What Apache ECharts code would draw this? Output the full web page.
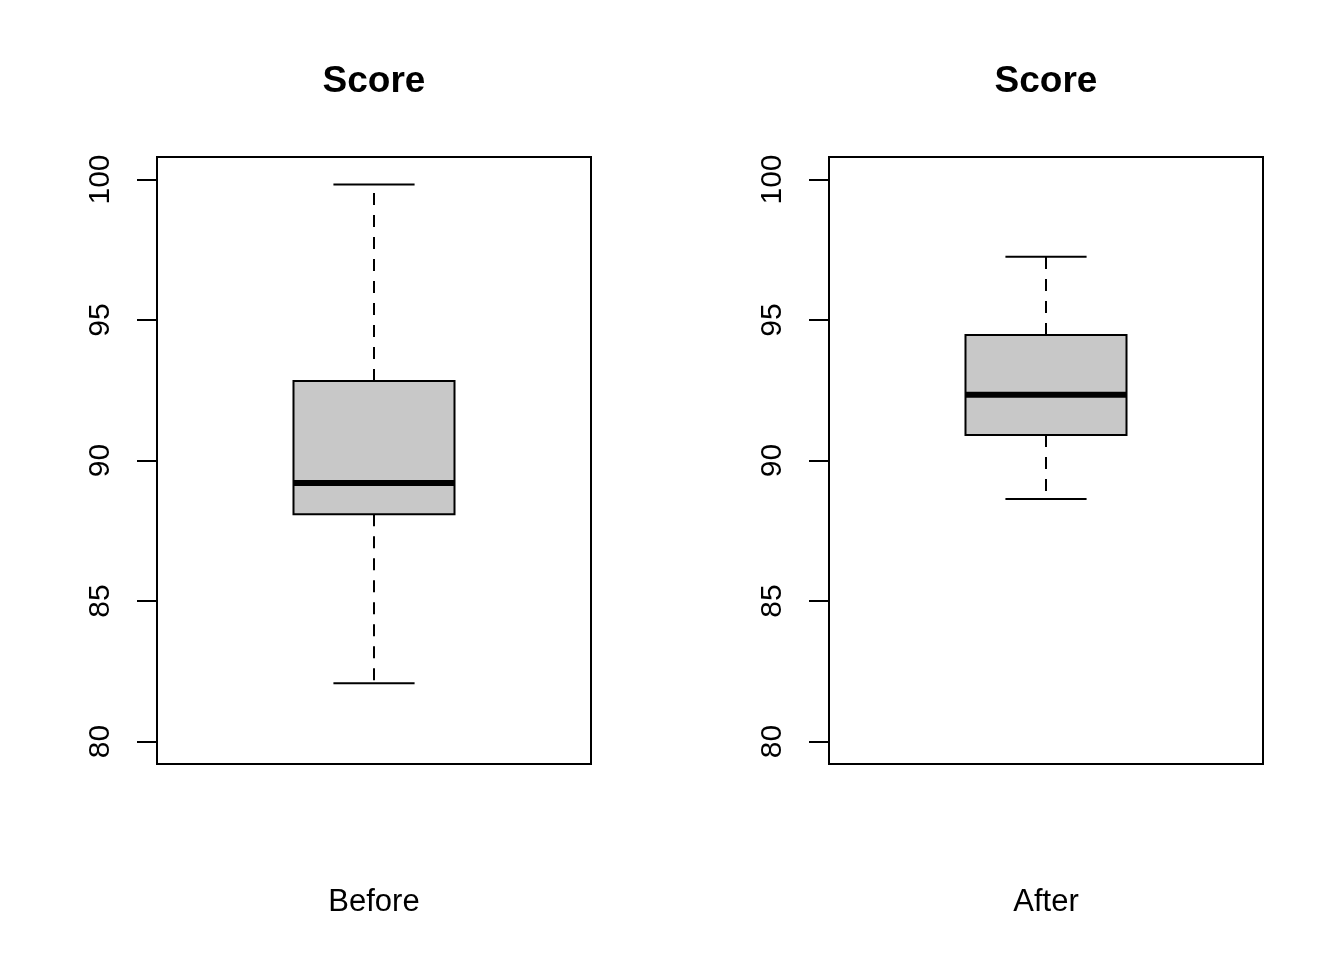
<!DOCTYPE html>
<html>
<head>
<meta charset="utf-8">
<script src="https://cdn.jsdelivr.net/npm/echarts@6/dist/echarts.min.js"></script>
<style>
html,body{margin:0;padding:0;background:#fff;}
#main{width:1344px;height:960px;}
</style>
</head>
<body>
<div id="main"></div>
<script>
// ---- data ----
const categories = ['Before', 'After'];
const panelTitles = ['Score', 'Score'];
const whiskerLow = [82.07, 88.63];
const q1 = [88.09, 90.91];
const median = [89.20, 92.34];
const q3 = [92.83, 94.47];
const whiskerHigh = [99.82, 97.25];
const yTicks = [80, 85, 90, 95, 100];
const yMin = 79.2, yMax = 100.8;

// ---- styles ----
const FONT = 'Liberation Sans, Arial, Helvetica, sans-serif';
const gridLefts = [157, 829];
const gridWidth = 434, gridTop = 157, gridHeight = 607;

const chart = echarts.init(document.getElementById('main'), null, {renderer: 'canvas'});

function renderBox(params, api) {
  const cx = api.value(0);
  const pLo = api.coord([cx, api.value(1)]);
  const pQ1 = api.coord([cx, api.value(2)]);
  const pMed = api.coord([cx, api.value(3)]);
  const pQ3 = api.coord([cx, api.value(4)]);
  const pHi = api.coord([cx, api.value(5)]);
  const band = api.size([1, 0])[0];
  const bh = band * 0.1855;
  const ch = band * 0.0935;
  const x = pMed[0];
  const black = '#000';
  return {
    type: 'group',
    children: [
      {type: 'line', shape: {x1: x, y1: pQ3[1], x2: x, y2: pHi[1]},
       style: {stroke: black, lineWidth: 2, lineDash: [12, 10]}},
      {type: 'line', shape: {x1: x, y1: pQ1[1], x2: x, y2: pLo[1]},
       style: {stroke: black, lineWidth: 2, lineDash: [12, 10]}},
      {type: 'line', shape: {x1: x - ch, y1: pHi[1], x2: x + ch, y2: pHi[1]},
       style: {stroke: black, lineWidth: 2}},
      {type: 'line', shape: {x1: x - ch, y1: pLo[1], x2: x + ch, y2: pLo[1]},
       style: {stroke: black, lineWidth: 2}},
      {type: 'rect', shape: {x: x - bh, y: pQ3[1], width: 2 * bh, height: pQ1[1] - pQ3[1]},
       style: {fill: '#c8c8c8', stroke: black, lineWidth: 2}},
      {type: 'line', shape: {x1: x - bh, y1: pMed[1], x2: x + bh, y2: pMed[1]},
       style: {stroke: black, lineWidth: 6}}
    ]
  };
}

const grids = [], xAxes = [], yAxes = [], series = [], graphics = [];
categories.forEach((cat, i) => {
  grids.push({left: gridLefts[i], top: gridTop, width: gridWidth, height: gridHeight,
    show: true, borderColor: '#000', borderWidth: 2, backgroundColor: 'transparent'});
  xAxes.push({type: 'category', gridIndex: i, data: [cat], boundaryGap: true,
    axisLine: {show: false}, axisTick: {show: false}, splitLine: {show: false},
    axisLabel: {show: true, margin: 123, fontSize: 31, color: '#000', fontFamily: FONT}});
  yAxes.push({type: 'value', gridIndex: i, min: yMin, max: yMax,
    axisLine: {show: true, lineStyle: {color: '#000', width: 2}},
    splitLine: {show: false},
    axisTick: {show: true, inside: false, length: 20, lineStyle: {color: '#000', width: 2}, customValues: yTicks},
    axisLabel: {show: true, rotate: 90, margin: 41, fontSize: 30, color: '#000', fontFamily: FONT, customValues: yTicks}});
  series.push({type: 'custom', xAxisIndex: i, yAxisIndex: i,
    renderItem: renderBox,
    encode: {x: 0, y: [1, 2, 3, 4, 5]},
    data: [[0, whiskerLow[i], q1[i], median[i], q3[i], whiskerHigh[i]]],
    silent: true, animation: false});
  graphics.push({type: 'text', x: gridLefts[i] + gridWidth / 2, y: 82,
    style: {text: panelTitles[i], font: 'bold 37px ' + FONT, fill: '#000', align: 'center', verticalAlign: 'middle'}});
});

chart.setOption({
  animation: false,
  backgroundColor: '#fff',
  grid: grids,
  xAxis: xAxes,
  yAxis: yAxes,
  series: series,
  graphic: graphics
});
</script>
</body>
</html>
